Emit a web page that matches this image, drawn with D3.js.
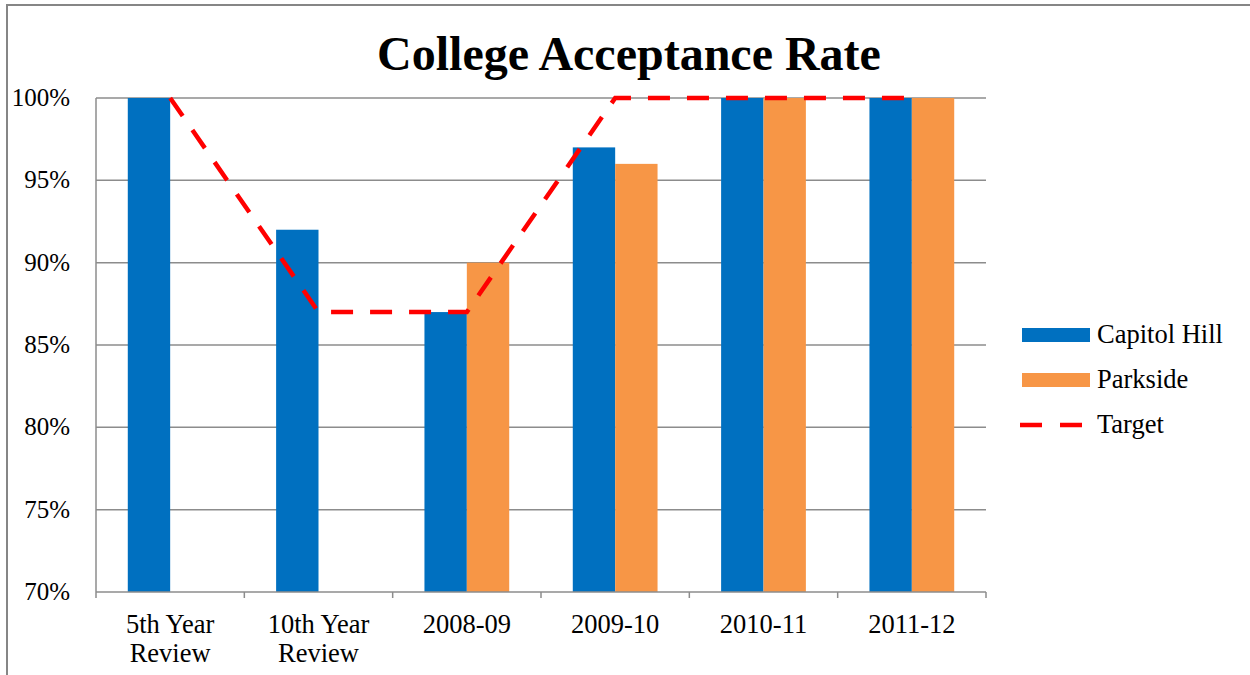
<!DOCTYPE html>
<html><head><meta charset="utf-8">
<script src="https://cdn.jsdelivr.net/npm/d3@7"></script>
<style>
html,body{margin:0;padding:0;background:#fff;}
svg{display:block;font-family:"Liberation Serif","Times New Roman",serif;}
</style></head>
<body>
<svg id="chart" width="1250" height="675"></svg>
<script>
const categories = [["5th Year","Review"],["10th Year","Review"],["2008-09"],["2009-10"],["2010-11"],["2011-12"]];
const capitolHill = [100, 92, 87, 97, 100, 100];
const parkside = [null, null, 90, 96, 100, 100];
const target = [100, 87, 87, 100, 100, 100];
const yTicks = [70, 75, 80, 85, 90, 95, 100];
const seriesNames = ["Capitol Hill", "Parkside", "Target"];
const colors = {"Capitol Hill":"#0070C0", "Parkside":"#F79646", "Target":"#FF0000"};

const svg = d3.select("#chart");
const W = 1250, H = 675;
const m = {left:96, right:264, top:98, bottom:83};

// outer frame
svg.append("rect").attr("x",7).attr("y",5).attr("width",W+20).attr("height",H+20)
  .attr("fill","none").attr("stroke","#868686").attr("stroke-width",2);

const keys = categories.map((c,i)=>i);
const x = d3.scaleBand().domain(keys).range([m.left, W-m.right]).padding(0);
const y = d3.scaleLinear().domain([70,100]).range([H-m.bottom, m.top]);
const bw = x.bandwidth();
const barW = bw/3.5;
const xs = d3.scaleBand().domain(["Capitol Hill","Parkside"]).range([bw/2-barW, bw/2+barW]).padding(0);

// gridlines
svg.append("g").selectAll("line").data(yTicks.filter(t=>t>70)).join("line")
  .attr("x1",m.left).attr("x2",W-m.right).attr("y1",d=>y(d)).attr("y2",d=>y(d))
  .attr("stroke","#8c8c8c").attr("stroke-width",1.5);

// bars
const series = [["Capitol Hill",capitolHill],["Parkside",parkside]];
series.forEach(([name,vals])=>{
  svg.append("g").selectAll("rect").data(vals.map((v,i)=>({v,i})).filter(d=>d.v!=null)).join("rect")
    .attr("x",d=>x(d.i)+xs(name)).attr("width",xs.bandwidth())
    .attr("y",d=>y(d.v)).attr("height",d=>y(70)-y(d.v))
    .attr("fill",colors[name]);
});

// y axis line
svg.append("line").attr("x1",m.left).attr("x2",m.left).attr("y1",y(100)).attr("y2",y(70))
  .attr("stroke","#8c8c8c").attr("stroke-width",1.5);
// x axis
const xAxisG = svg.append("g");
xAxisG.append("line").attr("x1",m.left).attr("x2",W-m.right).attr("y1",y(70)).attr("y2",y(70))
  .attr("stroke","#8c8c8c").attr("stroke-width",1.5);
xAxisG.selectAll("line.tk").data(d3.range(categories.length+1)).join("line").attr("class","tk")
  .attr("x1",d=>m.left+d*bw).attr("x2",d=>m.left+d*bw).attr("y1",y(70)).attr("y2",y(70)+6)
  .attr("stroke","#8c8c8c").attr("stroke-width",1.5);

// y tick labels
svg.append("g").selectAll("text").data(yTicks).join("text")
  .attr("x",70).attr("y",d=>y(d)+8).attr("text-anchor","end")
  .attr("font-size",25).attr("fill","#000").text(d=>d+"%");

// x labels
const xl = svg.append("g").selectAll("text").data(categories.map((c,i)=>({c,i}))).join("text")
  .attr("x",d=>x(d.i)+bw/2).attr("y",633).attr("text-anchor","middle")
  .attr("font-size",26.5).attr("fill","#000");
xl.selectAll("tspan").data(d=>d.c.map((t,j)=>({t,j,cx:x(d.i)+bw/2}))).join("tspan")
  .attr("x",d=>d.cx).attr("dy",d=>d.j===0?0:29).text(d=>d.t);

// target line
const line = d3.line().x((d,i)=>x(i)+bw/2).y(d=>y(d));
svg.append("path").datum(target).attr("d",line).attr("fill","none")
  .attr("stroke",colors.Target).attr("stroke-width",4.5).attr("stroke-dasharray","22,17");

// title
svg.append("text").attr("x",629).attr("y",70).attr("text-anchor","middle")
  .attr("font-size",48).attr("font-weight","bold").attr("fill","#000").text("College Acceptance Rate");

// legend
const lg = svg.append("g");
const ly = [335, 380, 425];
seriesNames.forEach((n,i)=>{
  if(n==="Target"){
    lg.append("line").attr("x1",1020).attr("x2",1084).attr("y1",ly[i]).attr("y2",ly[i])
      .attr("stroke",colors[n]).attr("stroke-width",4.5).attr("stroke-dasharray","22,18");
  } else {
    lg.append("rect").attr("x",1022).attr("y",ly[i]-7).attr("width",68).attr("height",14).attr("fill",colors[n]);
  }
  lg.append("text").attr("x",1097).attr("y",ly[i]+8).attr("font-size",26.5).attr("fill","#000").text(n);
});
</script>
</body></html>
